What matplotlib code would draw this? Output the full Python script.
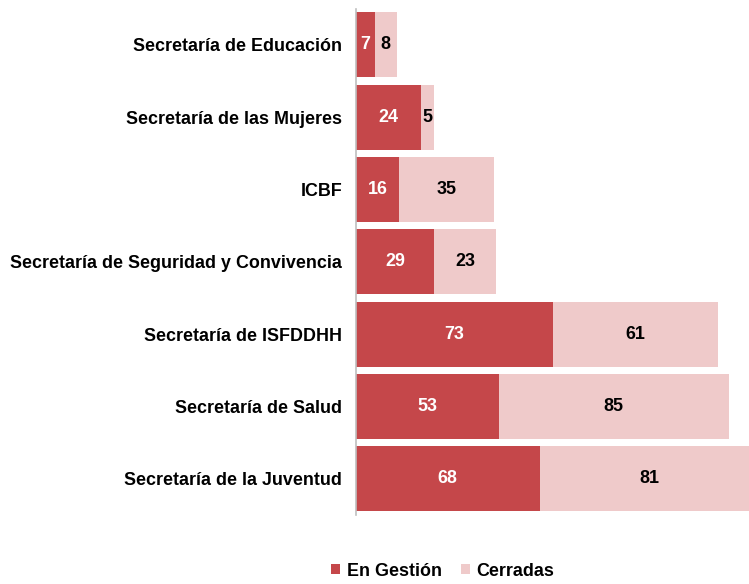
import matplotlib
matplotlib.use("Agg")
import matplotlib.pyplot as plt
import numpy as np

categories = ["Secretaría de Educación", "Secretaría de las Mujeres", "ICBF",
              "Secretaría de Seguridad y Convivencia", "Secretaría de ISFDDHH",
              "Secretaría de Salud", "Secretaría de la Juventud"]
en_gestion = [7, 24, 16, 29, 73, 53, 68]
cerradas = [8, 5, 35, 23, 61, 85, 81]
series_names = ["En Gestión", "Cerradas"]

c_dark = "#C5474A"
c_light = "#EFCACA"

plt.rcParams['font.family'] = ['Liberation Sans', 'DejaVu Sans']
FS = 12.9

fig = plt.figure(figsize=(7.49, 5.84), dpi=100)
ax = fig.add_axes([356/749, 1 - 515/584, 432/749, (515 - 8.8)/584])

y = np.arange(len(categories))
h = 0.9
b1 = ax.barh(y, en_gestion, height=h, color=c_dark, label=series_names[0])
b2 = ax.barh(y, cerradas, left=en_gestion, height=h, color=c_light, label=series_names[1])

for i in range(len(categories)):
    ax.text(en_gestion[i] / 2, y[i], str(en_gestion[i]), ha='center', va='center',
            color='white', fontsize=FS, fontweight='bold')
    ax.text(en_gestion[i] + cerradas[i] / 2, y[i], str(cerradas[i]), ha='center', va='center',
            color='black', fontsize=FS, fontweight='bold')

ax.set_xlim(0, 160)
ax.set_ylim(len(categories) - 0.5, -0.5)
ax.set_yticks(y)
ax.set_yticklabels(categories, fontsize=FS, fontweight='bold')
ax.tick_params(axis='y', length=0, pad=10)
ax.set_xticks([])
for s in ['top', 'right', 'bottom']:
    ax.spines[s].set_visible(False)
ax.spines['left'].set_color('#BFBFBF')
ax.spines['left'].set_linewidth(1.2)

fig.legend(handles=[b1, b2], labels=series_names, loc='center', bbox_to_anchor=(443/749, 1 - 571/584),
           ncol=2, frameon=False, prop={'weight': 'bold', 'size': FS},
           handlelength=0.5, handleheight=0.5, handletextpad=0.35, columnspacing=1.1)

fig.savefig("out.png", dpi=100)
